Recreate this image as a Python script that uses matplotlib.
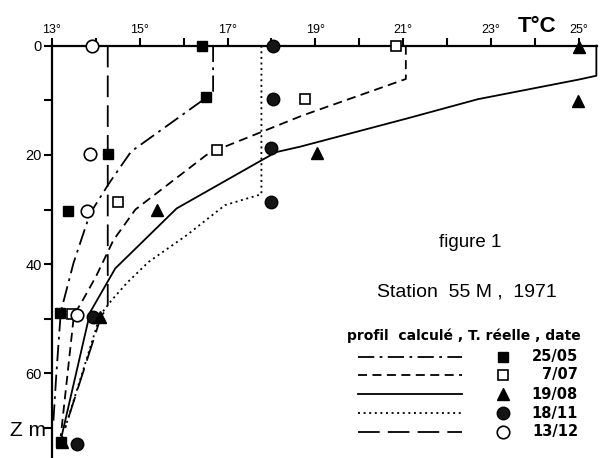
import matplotlib
matplotlib.use("Agg")
import matplotlib.pyplot as plt

plt.rcParams['font.family'] = ['Liberation Sans', 'DejaVu Sans']

# ---------------- data ----------------
dates = ["25/05", "7/07", "19/08", "18/11", "13/12"]

# calculated profiles (temperature °C, depth m)
prof_2505_T = [16.67, 16.67, 16.5, 14.8, 14.3, 13.87, 13.71, 13.49, 13.26, 13.2, 13.1, 13.03]
prof_2505_z = [0, 8.3, 9.6, 19.4, 25.2, 30.7, 34.5, 39.8, 46.9, 48.8, 60, 69]

prof_0707_T = [21.06, 21.06, 18.7, 16.75, 16.52, 14.9, 14.4, 14.0, 13.68, 13.5, 13.2]
prof_0707_z = [0, 6.1, 12.8, 19.1, 20.0, 30.0, 35.6, 42.3, 46.9, 49.3, 71.5]

prof_1908_T = [25.4, 25.4, 25.0, 22.7, 21.1, 18.65, 18.1, 15.84, 14.44, 13.87, 13.22]
prof_1908_z = [0, 5.5, 6.2, 9.8, 13.3, 18.5, 19.5, 29.8, 40.8, 48.8, 71.5]

prof_1811_T = [17.77, 17.77, 16.94, 16.07, 15.2, 14.7, 14.36, 14.1, 13.3]
prof_1811_z = [0, 27.2, 29.2, 34.7, 39.6, 43.5, 46.6, 49.3, 70.0]

prof_1312_T = [14.27, 14.27, 14.12, 13.3]
prof_1312_z = [0, 48.0, 49.5, 70.0]

# measured temperatures
obs_2505_T = [16.41, 16.5, 14.27, 13.37, 13.18, 13.2]
obs_2505_z = [0, 9.4, 19.9, 30.2, 49.0, 72.5]

obs_0707_T = [20.84, 18.76, 16.75, 14.51, 13.46]
obs_0707_z = [0.1, 9.8, 19.1, 28.7, 49.2]

obs_1908_T = [25.01, 24.99, 19.04, 15.4, 14.1, 13.22]
obs_1908_z = [0.2, 10.1, 19.7, 30.0, 49.6, 72.5]

obs_1811_T = [18.03, 18.03, 18.0, 18.0, 13.94, 13.56]
obs_1811_z = [0, 9.8, 18.7, 28.6, 49.7, 73.0]

obs_1312_T = [13.9, 13.87, 13.79, 13.56]
obs_1312_z = [0, 19.9, 30.2, 49.4]

xticks_major = [13, 15, 17, 19, 21, 23, 25]
xticks_minor = [14, 16, 18, 20, 22, 24]
yticks_major = [0, 20, 40, 60]
yticks_minor = [10, 30, 50, 70]

# ---------------- styles ----------------
ls_2505 = (0, (9, 3, 1.5, 3))
ls_0707 = (0, (5, 3))
ls_1908 = '-'
ls_1811 = (0, (1.1, 2.0))
ls_1312 = (0, (12, 4.5))
LW = 1.3

W, H = 601, 458
fig = plt.figure(figsize=(W / 100, H / 100), dpi=100)

left_px, right_px, top_px = 52, 597, 45.7
ax = fig.add_axes([left_px / W, 0, (right_px - left_px) / W, 1 - top_px / H])
px_per_deg = 43.9
px_per_m = 5.46
ax.set_xlim(13, 13 + (right_px - left_px) / px_per_deg)
ax.set_ylim((H - top_px) / px_per_m, 0)

for s in ['right', 'bottom']:
    ax.spines[s].set_visible(False)
for s in ['top', 'left']:
    ax.spines[s].set_linewidth(1.6)
    ax.spines[s].set_zorder(1)

ax.xaxis.tick_top()
ax.set_xticks(xticks_major)
ax.set_xticklabels([f"{t}°" for t in xticks_major])
ax.set_xticks(xticks_minor, minor=True)
ax.set_yticks(yticks_major)
ax.set_yticklabels([str(v) for v in yticks_major])
ax.set_yticks(yticks_minor, minor=True)
ax.tick_params(axis='x', which='both', direction='out', length=5.5, width=1.5,
               labelsize=9, pad=1.5, top=True, bottom=False)
ax.tick_params(axis='y', which='both', direction='out', length=6, width=1.5,
               labelsize=10.5, pad=1.5)

kw = dict(color='black', lw=LW, clip_on=False, zorder=2)
ax.plot(prof_2505_T, prof_2505_z, linestyle=ls_2505, **kw)
ax.plot(prof_0707_T, prof_0707_z, linestyle=ls_0707, **kw)
ax.plot(prof_1908_T, prof_1908_z, linestyle=ls_1908, **kw)
ax.plot(prof_1811_T, prof_1811_z, linestyle=ls_1811, **kw)
ax.plot(prof_1312_T, prof_1312_z, linestyle=ls_1312, **kw)

mk = dict(linestyle='none', clip_on=False, zorder=4, markeredgecolor='black')
m_2505 = dict(marker='s', markersize=7, markerfacecolor='black', markeredgewidth=1)
m_0707 = dict(marker='s', markersize=7, markerfacecolor='white', markeredgewidth=1.2)
m_1908 = dict(marker='^', markersize=8, markerfacecolor='black', markeredgewidth=1)
m_1811 = dict(marker='o', markersize=9, markerfacecolor='#141414', markeredgewidth=1)
m_1312 = dict(marker='o', markersize=9, markerfacecolor='white', markeredgewidth=1.2)

ax.plot(obs_2505_T, obs_2505_z, **m_2505, **mk)
ax.plot(obs_0707_T, obs_0707_z, **m_0707, **mk)
ax.plot(obs_1312_T, obs_1312_z, **m_1312, **mk)
ax.plot(obs_1811_T, obs_1811_z, **m_1811, **mk)
ax.plot(obs_1908_T, obs_1908_z, **m_1908, **mk)

# ---------------- texts ----------------
fig.text(537 / W, 1 - 26 / H, "T°C", fontsize=16, fontweight='bold', ha='center', va='center')
fig.text(28 / W, 1 - 430 / H, "Z m", fontsize=15, ha='center', va='center')
fig.text(470 / W, 1 - 243 / H, "figure 1", fontsize=13.5, ha='center', va='center')
fig.text(467 / W, 1 - 292 / H, "Station  55 M ,  1971", fontsize=14, ha='center', va='center')
fig.text(464 / W, 1 - 336 / H, "profil  calculé , T. réelle , date", fontsize=10,
         fontweight='bold', ha='center', va='center', family=['DejaVu Sans'])

# ---------------- legend ----------------
lg = fig.add_axes([0, 0, 1, 1])
lg.set_xlim(0, W)
lg.set_ylim(H, 0)
lg.axis('off')
rows_y = [356.7, 375, 394.3, 413.3, 431.7]
styles = [ls_2505, ls_0707, ls_1908, ls_1811, ls_1312]
markers = [m_2505, m_0707, m_1908, m_1811, m_1312]
for y, ls, m, d in zip(rows_y, styles, markers, dates):
    lg.plot([358, 462], [y, y], color='black', lw=LW, linestyle=ls)
    lg.plot([503], [y], linestyle='none', markeredgecolor='black', **m)
    lg.text(578, y, d, fontsize=10.5, fontweight='bold', ha='right', va='center',
            family=['DejaVu Sans'])

fig.savefig("out.png", dpi=100)
